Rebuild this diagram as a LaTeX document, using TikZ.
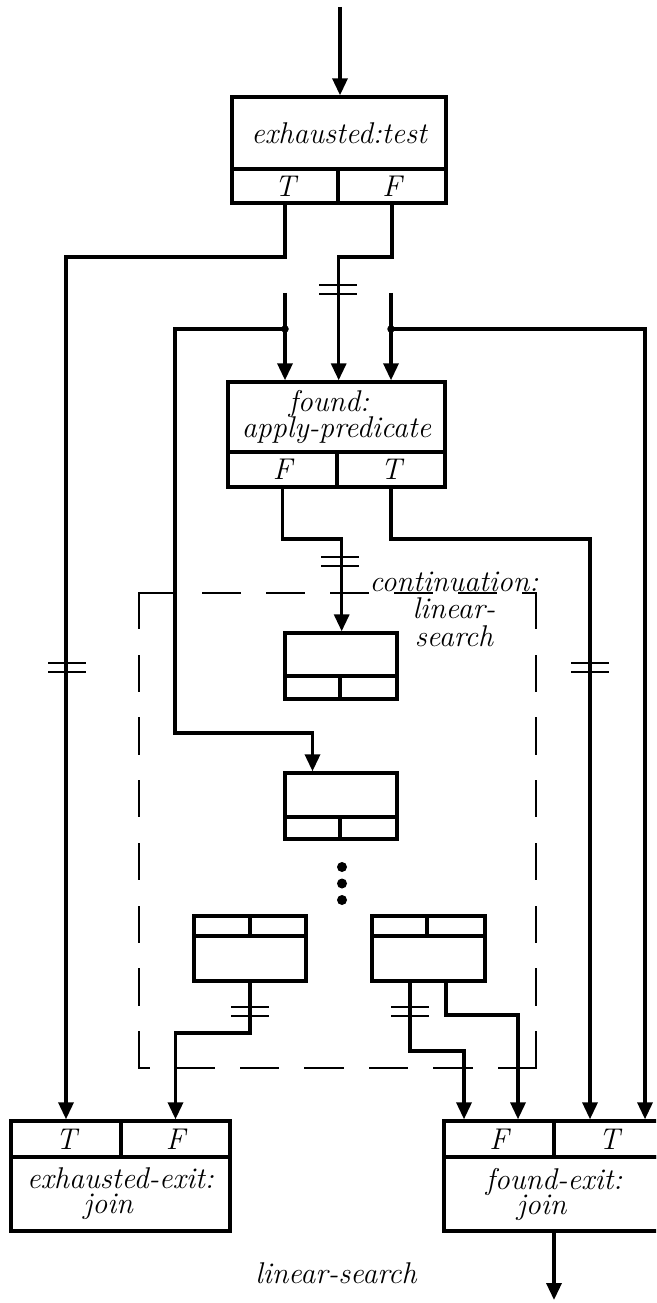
\documentclass[tikz,border=0pt]{standalone}
\usetikzlibrary{arrows.meta}
\newcommand\cellfont{\fontsize{12pt}{10pt}\selectfont\itshape\lineskiplimit=-20pt\relax}
\newcommand\twofont{\fontsize{12pt}{10.2pt}\selectfont\itshape\lineskiplimit=-20pt\relax}
\newcommand\lblfont{\fontsize{12pt}{11pt}\selectfont\itshape\lineskiplimit=-20pt\relax}
\begin{document}
\begin{tikzpicture}[x=0.4pt,y=-0.4pt,
  cell/.style={draw, line width=1.35pt, inner sep=0pt, font=\cellfont, align=center},
  sz/.style 2 args={minimum width=#1*0.4pt, minimum height=#2*0.4pt},
  conn/.style={line width=1.35pt},
  arr/.style={conn,-{Triangle[length=6.8pt,width=6pt]}},
  dashln/.style={line width=0.9pt, line cap=rect},
  tickln/.style={line width=0.8pt},
  dbl/.pic={\draw[tickln] (-19,-4.5) -- (19,-4.5) (-19,4.5) -- (19,4.5);},
  lbl/.style={inner sep=0pt, align=center, font=\lblfont}]
\useasboundingbox (0,0) rectangle (656,1303);
\clip (0,0) rectangle (656,1303);

% exhausted:test
\node[cell,sz={214}{72}] (etx) at (339,133) {exhausted:test};
\node[cell,sz={106}{34}] (etT) at (285,186) {T};
\node[cell,sz={108}{34}] (etF) at (392,186) {F};

% found: apply-predicate
\node[cell,sz={217}{70},font=\twofont] (fx) at (336.5,417) {found:\kern6pt\\apply-predicate};
\node[cell,sz={109}{35}] (fF) at (282.5,469.5) {F};
\node[cell,sz={108}{35}] (fT) at (391,469.5) {T};

% continuation boxes
\node[cell,sz={112}{43}] (b1) at (341,654.5) {};
\node[cell,sz={55}{23}] (b1L) at (312.5,687.5) {};
\node[cell,sz={57}{23}] (b1R) at (368.5,687.5) {};

\node[cell,sz={112}{44}] (b2) at (341,795) {};
\node[cell,sz={55}{22}] (b2L) at (312.5,828) {};
\node[cell,sz={57}{22}] (b2R) at (368.5,828) {};

\node[cell,sz={56}{20}] (b3L) at (222,926) {};
\node[cell,sz={56}{20}] (b3R) at (278,926) {};
\node[cell,sz={112}{45}] (b3) at (250,958.5) {};

\node[cell,sz={55}{20}] (b4L) at (399.5,926) {};
\node[cell,sz={58}{20}] (b4R) at (456,926) {};
\node[cell,sz={113}{45}] (b4) at (428.5,958.5) {};

% exits
\node[cell,sz={110}{36}] (exT) at (66,1139) {T};
\node[cell,sz={109}{36}] (exF) at (175.5,1139) {F};
\node[cell,sz={219}{74}] (exx) at (120.5,1194) {exhausted-exit:\\join\kern10pt};

\node[cell,sz={110}{36}] (fxF) at (499,1139) {F};
\node[cell,sz={110}{36}] (fxT) at (609,1139) {T};
\node[cell,sz={220}{74}] (fxx) at (554,1194) {found-exit:\\join\kern10pt};

% labels
\node[lbl] (contlbl) at (454,609) {continuation:\\linear-\\search};
\node[lbl] (title) at (336,1273) {linear-search};

% dashed continuation frame
\draw[dashln, dash pattern=on 14.8pt off 10.8pt] (139,593) -- (536,593);
\draw[dashln, dash pattern=on 14pt off 11.1pt] (139,593) -- (139,1068);
\draw[dashln, dash pattern=on 14pt off 11.1pt] (536,593) -- (536,1068);
\draw[dashln, dash pattern=on 14.8pt off 11pt] (536,1068) -- (139,1068);

% helper coordinates
\coordinate (in) at (340,7);
\coordinate (out) at (554,1300);
\coordinate (r1) at (0,257);
\coordinate (r2) at (0,539);
\coordinate (r3) at (0,1033);
\coordinate (r4) at (0,1051);
\coordinate (r5) at (0,1015);
\coordinate (s1) at (285,293);
\coordinate (s2) at (391,293);
\coordinate (j1) at (285,329);
\coordinate (j2) at (391,329);
\coordinate (c1) at (175,733);
\coordinate (o4a) at (410,0);
\coordinate (o4b) at (446,0);
\coordinate (fin1) at (464,0);
\coordinate (fin2) at (518,0);
\coordinate (fin3) at (590,0);
\coordinate (fin4) at (645,0);

% connectors
\draw[arr] (in) -- (in |- etx.north);
\draw[arr] (etT.south) -- (etT.south |- r1) -| (exT.north);
\draw[arr] (etF.south) -- (etF.south |- r1) -| (fF.north east |- fx.north);
\draw[arr] (s1) -- (s1 |- fx.north);
\draw[arr] (s2) -- (s2 |- fx.north);
\draw[arr] (j1) -| (c1) -| (b2L.north |- b2.north);
\draw[arr] (j2) -| (fin4 |- fxT.north);
\draw[arr] (fF.south) -- (fF.south |- r2) -| (b1L.north east |- b1.north);
\draw[arr] (fT.south) -- (fT.south |- r2) -| (fin3 |- fxT.north);
\draw[arr] (b3.south) -- (b3.south |- r3) -| (exF.north);
\draw[arr] (o4a |- b4.south) -- (o4a |- r4) -| (fin1 |- fxF.north);
\draw[arr] (o4b |- b4.south) -- (o4b |- r5) -| (fin2 |- fxF.north);
\draw[arr] (fxx.south) -- (out);

% junction dots and ellipsis
\fill (j1) circle (1.5pt);
\fill (j2) circle (1.5pt);
\fill (342,867) circle (2pt);
\fill (342,883.5) circle (2pt);
\fill (342,900) circle (2pt);

% double ticks
\pic at (338,290) {dbl};
\pic at (67,667) {dbl};
\pic at (590,667) {dbl};
\pic at (340,561.5) {dbl};
\pic at (250,1011.5) {dbl};
\pic at (410,1011.5) {dbl};
\end{tikzpicture}
\end{document}
